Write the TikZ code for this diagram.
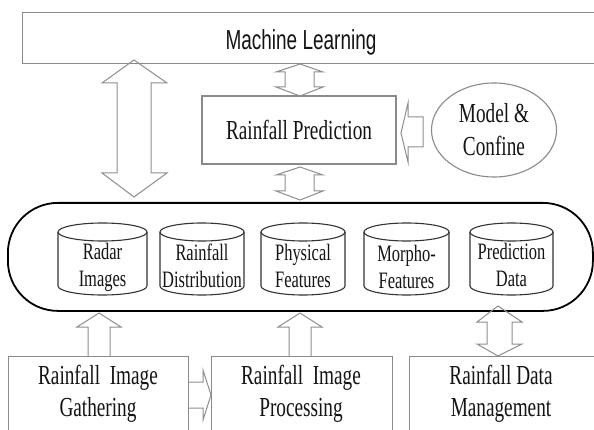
\documentclass[tikz,border=0pt]{standalone}
\usepackage{fontspec}
\setmainfont[FakeStretch=0.7]{Liberation Serif}
\setsansfont[FakeStretch=0.69]{Liberation Sans}
\usetikzlibrary{shapes.geometric}
\definecolor{boxgray}{HTML}{8A8A8A}
\definecolor{arrgray}{HTML}{8E8E8E}
\definecolor{cylgray}{HTML}{333333}
\definecolor{txt}{HTML}{141414}
\tikzset{
  gbox/.style={draw=boxgray, line width=1.1pt, inner sep=0pt},
  barrow/.style={draw=arrgray, line width=1pt, line join=miter},
  cylline/.style={draw=cylgray, line width=1.1pt},
  bigtxt/.style={font=\fontsize{27.5}{33}\selectfont, text=txt, align=center, inner sep=0pt},
  cyltxt/.style={font=\fontsize{23.5}{27}\selectfont, text=txt, align=center, inner sep=0pt},
  sanstxt/.style={font=\sffamily\fontsize{27.5}{32}\selectfont, text=txt, inner sep=0pt}
}
\begin{document}
\begin{tikzpicture}[x=1pt,y=-1pt]
\useasboundingbox (0,0) rectangle (594,430);
\clip (0,0) rectangle (594,430);
\fill[white] (0,0) rectangle (594,430);

% Machine Learning
\node[gbox, anchor=north west, minimum width=590pt, minimum height=51pt] (ml) at (22,12) {};
\node[sanstxt] (mltext) at (301,42) {Machine Learning};

% Rainfall Prediction
\node[gbox, minimum width=194pt, minimum height=68pt, bigtxt] (rp) at (299,130) {Rainfall Prediction};

% Model & Confine
\node[draw=boxgray, line width=1.1pt, ellipse, minimum width=125pt, minimum height=94pt, bigtxt] (model) at (494,130) {Model \&\\Confine};

% Data store
\node[draw=black, line width=1.8pt, rounded corners=50pt, anchor=north west,
      minimum width=585pt, minimum height=108pt, inner sep=0pt] (store) at (7,202) {};

% Cylinders
\foreach \xa/\xb/\nm/\tx/\ty in {58/147/radar/{Radar\\Images}/267,
                                 160/244/distr/{Rainfall\\Distribution}/265.5,
                                 261/345/phys/{Physical\\Features}/265.5,
                                 364/449/morph/{Morpho-\\Features}/267,
                                 470/553/pred/{Prediction\\Data}/264.5}{
  \pgfmathsetmacro{\rx}{(\xb-\xa)/2}
  \pgfmathsetmacro{\cx}{(\xb+\xa)/2}
  \draw[cylline] (\xa,232) -- (\xa,286) arc[start angle=180, end angle=0, x radius=\rx, y radius=9] -- (\xb,232);
  \draw[cylline] (\cx,232) ellipse [x radius=\rx, y radius=9];
  \node[cyltxt] (\nm) at (\cx,\ty) {\tx};
}

% Bottom boxes
\node[gbox, anchor=north west, minimum width=180pt, minimum height=90pt] (gather) at (8,356) {};
\node[bigtxt, font=\fontsize{27.5}{32}\selectfont] (gathertext) at (98,394) {Rainfall\ \ Image\\Gathering};
\node[gbox, anchor=north west, minimum width=181pt, minimum height=90pt] (proc) at (211,356) {};
\node[bigtxt, font=\fontsize{27.5}{32}\selectfont] (proctext) at (301,394) {Rainfall\ \ Image\\Processing};
\node[gbox, anchor=north west, minimum width=190pt, minimum height=90pt] (mgmt) at (409,356) {};
\node[bigtxt, font=\fontsize{27.5}{32}\selectfont] (mgmttext) at (501,394) {Rainfall Data\\Management};

% Block arrows
\draw[barrow] (134,60) -- (167,83) -- (151,83) -- (151,173) -- (167,173) -- (134,197)
  -- (102,173) -- (117,173) -- (117,83) -- (102,83) -- cycle;
\draw[barrow] (300,64) -- (323,72) -- (314,72) -- (314,87) -- (323,87) -- (300,96)
  -- (276,87) -- (285,87) -- (285,72) -- (276,72) -- cycle;
\draw[barrow] (300,167) -- (323,175) -- (314,175) -- (314,191) -- (323,191) -- (300,200)
  -- (276,191) -- (285,191) -- (285,175) -- (276,175) -- cycle;
\draw[barrow] (401,133) -- (408,103) -- (408,117) -- (423,117) -- (423,147) -- (408,147) -- (408,162) -- cycle;
\draw[barrow] (99,313) -- (121,327) -- (110,327) -- (110,356) (88,356) -- (88,327) -- (77,327) -- (99,313);
\draw[barrow] (300,313) -- (322,327) -- (311,327) -- (311,356) (289,356) -- (289,327) -- (278,327) -- (300,313);
\draw[barrow] (498,306) -- (522,322) -- (512,322) -- (512,344) -- (522,344) -- (498,356)
  -- (477,344) -- (487,344) -- (487,322) -- (477,322) -- cycle;
\draw[barrow] (188,382) -- (203,382) -- (203,370) -- (211,395) -- (203,420) -- (203,408) -- (188,408);
\end{tikzpicture}
\end{document}
